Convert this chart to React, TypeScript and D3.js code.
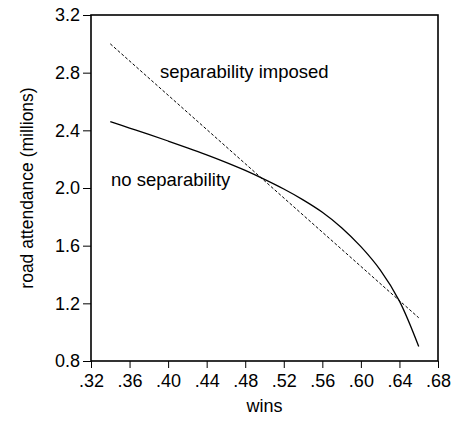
import React, { useEffect, useRef } from "react";
import * as d3 from "d3";

// wins on the x axis, attendance in millions on the y axis
const winsNoSep = [0.34, 0.36, 0.38, 0.4, 0.42, 0.44, 0.46, 0.48, 0.5, 0.52, 0.54, 0.56, 0.58, 0.6, 0.62, 0.64, 0.66];
const attendanceNoSep = [2.46, 2.416, 2.372, 2.326, 2.279, 2.23, 2.178, 2.122, 2.06, 1.993, 1.918, 1.832, 1.725, 1.593, 1.432, 1.215, 0.9];

const winsSep = [0.34, 0.66];
const attendanceSep = [3.0, 1.1];

const xTicks = [0.32, 0.36, 0.4, 0.44, 0.48, 0.52, 0.56, 0.6, 0.64, 0.68];
const yTicks = [0.8, 1.2, 1.6, 2.0, 2.4, 2.8, 3.2];

const FONT = "'Liberation Sans', Arial, sans-serif";

const App = () => {
  const svgRef = useRef<SVGSVGElement>(null);

  useEffect(() => {
    const width = 451,
      height = 428,
      margin = { top: 15, right: 13, bottom: 67, left: 91 };

    const svg = d3.select(svgRef.current);
    svg.selectAll("*").remove();

    const x = d3
      .scaleLinear()
      .domain([0.32, 0.68])
      .range([margin.left, width - margin.right]);
    const y = d3
      .scaleLinear()
      .domain([0.8, 3.2])
      .range([height - margin.bottom, margin.top]);

    // x axis
    const gx = svg
      .append("g")
      .attr("transform", `translate(0, ${y(0.8)})`)
      .call(
        d3
          .axisBottom(x)
          .tickValues(xTicks)
          .tickSize(7)
          .tickPadding(5)
          .tickFormat((d) => d3.format(".2f")(d as number).replace(/^0/, ""))
      );

    // y axis
    const gy = svg
      .append("g")
      .attr("transform", `translate(${x(0.32)}, 0)`)
      .call(
        d3
          .axisLeft(y)
          .tickValues(yTicks)
          .tickSize(8)
          .tickPadding(3)
          .tickFormat(d3.format(".1f"))
      );

    [gx, gy].forEach((g) => {
      g.select(".domain").remove();
      g.selectAll(".tick line").attr("stroke", "#000").attr("stroke-width", 1);
      g.selectAll(".tick text")
        .attr("fill", "#000")
        .attr("font-family", FONT)
        .attr("font-size", 18);
    });
    gx.selectAll(".tick text").attr("dy", "0.75em");

    // frame
    svg
      .append("rect")
      .attr("x", x(0.32))
      .attr("y", y(3.2))
      .attr("width", x(0.68) - x(0.32))
      .attr("height", y(0.8) - y(3.2))
      .attr("fill", "none")
      .attr("stroke", "#000")
      .attr("stroke-width", 1.6);

    const line = d3
      .line<number>()
      .x((d) => x(d))
      .curve(d3.curveCatmullRom);

    // separability imposed (dashed)
    svg
      .append("path")
      .attr("d", line.y((d, i) => y(attendanceSep[i]))(winsSep))
      .attr("fill", "none")
      .attr("stroke", "#000")
      .attr("stroke-width", 1)
      .attr("stroke-dasharray", "3,2");

    // no separability (solid)
    svg
      .append("path")
      .attr("d", line.y((d, i) => y(attendanceNoSep[i]))(winsNoSep))
      .attr("fill", "none")
      .attr("stroke", "#000")
      .attr("stroke-width", 1.3);

    const label = (text: string, lx: number, ly: number) =>
      svg
        .append("text")
        .attr("x", lx)
        .attr("y", ly)
        .attr("font-family", FONT)
        .attr("font-size", 18.5)
        .attr("fill", "#000")
        .text(text);

    label("separability imposed", 160, 78);
    label("no separability", 111, 186);

    // axis titles
    svg
      .append("text")
      .attr("x", (x(0.32) + x(0.68)) / 2)
      .attr("y", 412)
      .attr("text-anchor", "middle")
      .attr("font-family", FONT)
      .attr("font-size", 18)
      .text("wins");

    svg
      .append("text")
      .attr("transform", `translate(33, ${(y(0.8) + y(3.2)) / 2}) rotate(-90)`)
      .attr("text-anchor", "middle")
      .attr("font-family", FONT)
      .attr("font-size", 17.5)
      .text("road attendance (millions)");
  }, []);

  return (
    <svg
      ref={svgRef}
      width={451}
      height={428}
      style={{ position: "absolute", left: 0, top: 0, background: "#fff" }}
    ></svg>
  );
};

export default App;
